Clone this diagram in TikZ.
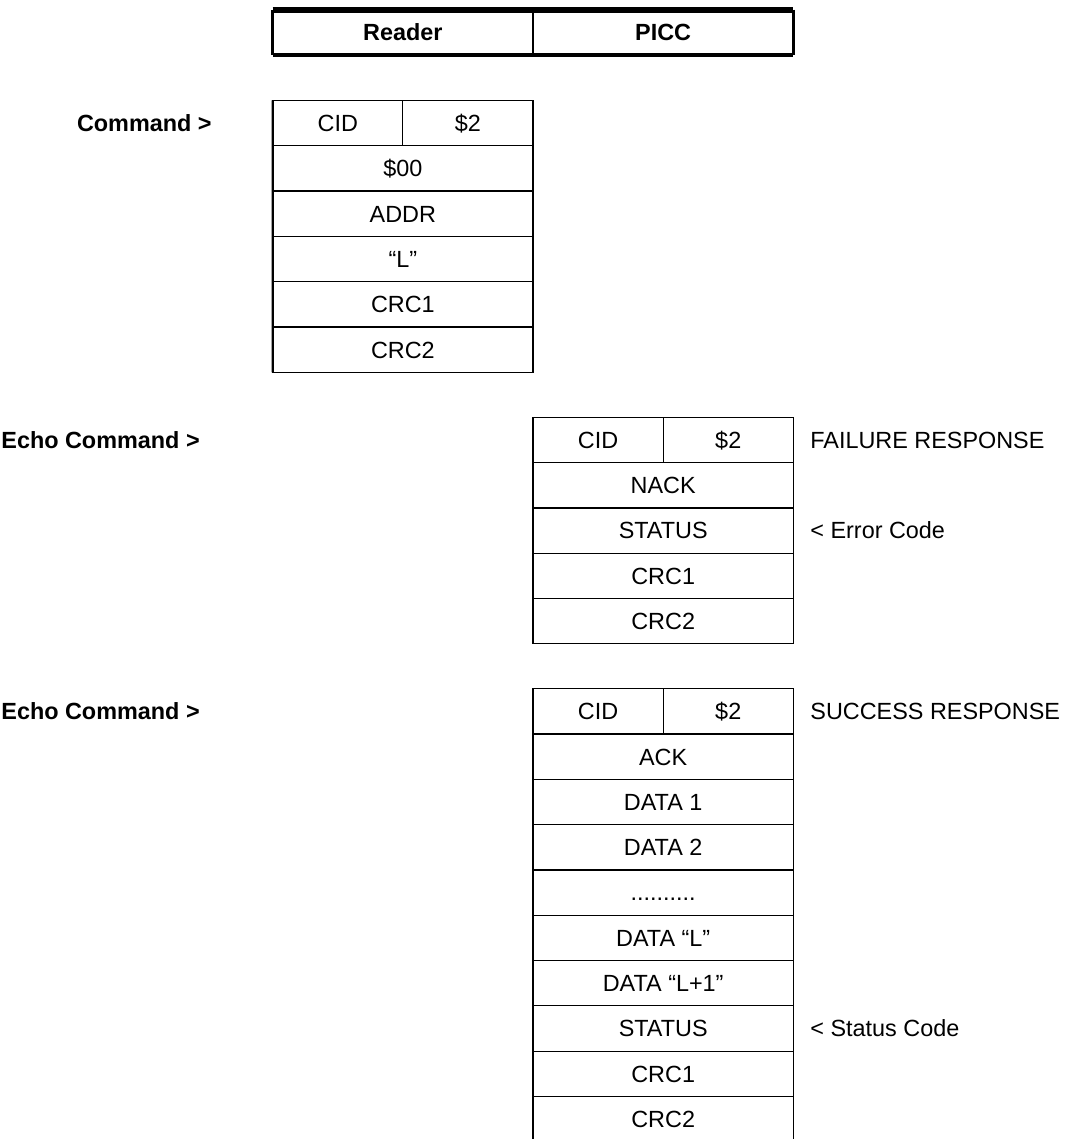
\documentclass[tikz,border=0pt]{standalone}
\usepackage{fontspec}
\setmainfont{Liberation Sans}
\usetikzlibrary{positioning}

\begin{document}
\begin{tikzpicture}[x=0.5pt,y=-0.5pt,font=\fontsize{11.7}{14}\selectfont,
   cell/.style={draw,line width=0.6pt,minimum width=130.15pt,minimum height=22.65pt,
                inner sep=0pt,outer sep=0pt,text height=8.4pt,text depth=0pt},
   half/.style={cell,minimum width=65.075pt},
   hdr/.style={cell,draw=none,font=\fontsize{11.7}{14}\selectfont\bfseries},
   lbl/.style={anchor=east,inner sep=0pt,text height=8.4pt,text depth=0pt,
               font=\fontsize{11.7}{14}\selectfont\bfseries},
   note/.style={anchor=west,inner sep=0pt,text height=8.4pt,text depth=0pt},
   edge/.style={line width=1.1pt}]
\useasboundingbox (0,0) rectangle (1067,1139);
%% ---- header: Reader / PICC ----
\node[hdr] (rdr) at (402.85,32.35) {Reader};
\node[hdr,right=0pt of rdr] (picc) {PICC};
\draw[line width=3pt] (rdr.north west) -- (picc.north east);
\draw[line width=1.7pt] (rdr.south west) -- (picc.south east);
\draw[line width=1.25pt] (rdr.north west) -- (rdr.south west);
\draw[line width=1.25pt] (picc.north east) -- (picc.south east);
\draw[line width=0.6pt] (rdr.north east) -- (rdr.south east);
%% ---- reader command ----
\node[lbl] (cmd) at (212,123.15) {Command >};
\node[half] (cid1) at (337.8,123.15) {CID};
\node[half,right=0pt of cid1] (two1) {\$2};
\node[cell,anchor=north] (c2) at (cid1.south east) {\$00};
\node[cell,below=0pt of c2] (c3) {ADDR};
\node[cell,below=0pt of c3] (c4) {``L''};
\node[cell,below=0pt of c4] (c5) {CRC1};
\node[cell,below=0pt of c5] (c6) {CRC2};
\draw[edge] (cid1.north west) -- (c6.south west);
%% ---- PICC failure response ----
\node[lbl,anchor=west] (echo1) at (1,439.95) {Echo Command >};
\node[half] (cid2) at (598.1,439.95) {CID};
\node[half,right=0pt of cid2] (two2) {\$2};
\node[cell,anchor=north] (f2) at (cid2.south east) {NACK};
\node[cell,below=0pt of f2] (f3) {STATUS};
\node[cell,below=0pt of f3] (f4) {CRC1};
\node[cell,below=0pt of f4] (f5) {CRC2};
\draw[edge] (f3.north west) -- (f5.south west);
\node[note] (fail) at (810,439.95) {FAILURE RESPONSE};
\node[note] (err) at (810,530.55) {< Error Code};
%% ---- PICC success response ----
\node[lbl,anchor=west] (echo2) at (1,711.35) {Echo Command >};
\node[half] (cid3) at (598.1,711.35) {CID};
\node[half,right=0pt of cid3] (two3) {\$2};
\node[cell,anchor=north] (s2) at (cid3.south east) {ACK};
\node[cell,below=0pt of s2] (s3) {DATA 1};
\node[cell,below=0pt of s3] (s4) {DATA 2};
\node[cell,below=0pt of s4] (s5) {..........};
\node[cell,below=0pt of s5] (s6) {DATA ``L''};
\node[cell,below=0pt of s6] (s7) {DATA ``L+1''};
\node[cell,below=0pt of s7] (s8) {STATUS};
\node[cell,below=0pt of s8] (s9) {CRC1};
\node[cell,below=0pt of s9] (s10) {CRC2};
\draw[edge] (s4.north west) -- (s10.south west);
\node[note] (succ) at (810,711.35) {SUCCESS RESPONSE};
\node[note] (stat) at (810,1028.45) {< Status Code};
\end{tikzpicture}
\end{document}
